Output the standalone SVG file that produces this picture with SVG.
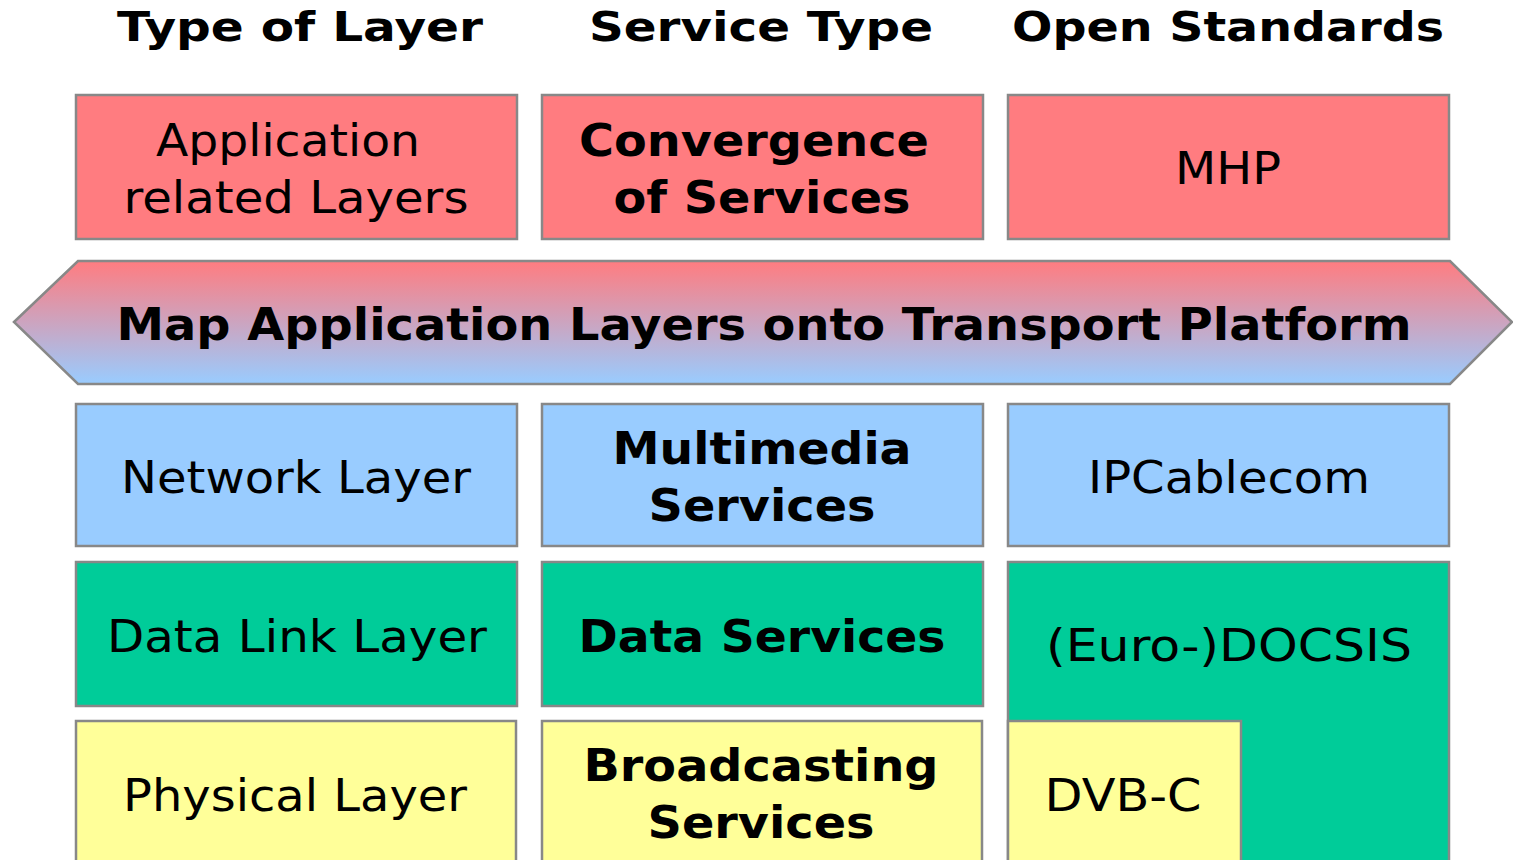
<svg xmlns="http://www.w3.org/2000/svg" width="1513" height="860" viewBox="0 0 1513 860">
<defs>
<linearGradient id="g" x1="0" y1="0" x2="0" y2="1">
<stop offset="0" stop-color="#FF7C80"/>
<stop offset="1" stop-color="#99CCFF"/>
</linearGradient>
</defs>
<style>
.b{stroke:#888;stroke-width:2.5}
.r{fill:#FF7C80}.u{fill:#99CCFF}.gr{fill:#00CC99}.y{fill:#FFFF99}
text{font-family:"DejaVu Sans",Verdana,sans-serif;font-size:45px;fill:#000;text-anchor:middle}
.h{font-weight:bold;font-size:40px}
.bd{font-weight:bold}
</style>
<rect width="1513" height="860" fill="#fff"/>
<g id="headers">
<text class="h" x="300" y="41" textLength="366" lengthAdjust="spacingAndGlyphs">Type of Layer</text>
<text class="h" x="761" y="41" textLength="344" lengthAdjust="spacingAndGlyphs">Service Type</text>
<text class="h" x="1228" y="41" textLength="432" lengthAdjust="spacingAndGlyphs">Open Standards</text>
</g>
<g id="app-layer"><rect class="b r" x="76" y="95" width="441" height="144"/><text x="288" y="156" textLength="264" lengthAdjust="spacingAndGlyphs">Application</text><text x="296" y="213" textLength="345" lengthAdjust="spacingAndGlyphs">related Layers</text></g>
<g id="convergence"><rect class="b r" x="542" y="95" width="441" height="144"/><text class="bd" x="754" y="156" textLength="350" lengthAdjust="spacingAndGlyphs">Convergence</text><text class="bd" x="762" y="213" textLength="297" lengthAdjust="spacingAndGlyphs">of Services</text></g>
<g id="mhp"><rect class="b r" x="1008" y="95" width="441" height="144"/><text x="1228" y="184" textLength="106" lengthAdjust="spacingAndGlyphs">MHP</text></g>
<g id="map-arrow"><polygon class="b" fill="url(#g)" points="14,322 78,261 1450,261 1512,322 1450,384 78,384"/><text class="bd" x="764" y="340" textLength="1295" lengthAdjust="spacingAndGlyphs">Map Application Layers onto Transport Platform</text></g>
<g id="network"><rect class="b u" x="76" y="404" width="441" height="142"/><text x="296" y="493" textLength="350" lengthAdjust="spacingAndGlyphs">Network Layer</text></g>
<g id="multimedia"><rect class="b u" x="542" y="404" width="441" height="142"/><text class="bd" x="762" y="464" textLength="299" lengthAdjust="spacingAndGlyphs">Multimedia</text><text class="bd" x="762" y="521" textLength="227" lengthAdjust="spacingAndGlyphs">Services</text></g>
<g id="ipcablecom"><rect class="b u" x="1008" y="404" width="441" height="142"/><text x="1229" y="493" textLength="282" lengthAdjust="spacingAndGlyphs">IPCablecom</text></g>
<g id="datalink"><rect class="b gr" x="76" y="562" width="441" height="144"/><text x="297" y="652" textLength="380" lengthAdjust="spacingAndGlyphs">Data Link Layer</text></g>
<g id="dataservices"><rect class="b gr" x="542" y="562" width="441" height="144"/><text class="bd" x="762" y="652" textLength="367" lengthAdjust="spacingAndGlyphs">Data Services</text></g>
<g id="docsis"><rect class="b gr" x="1008" y="562" width="441" height="310"/><text x="1229" y="661" textLength="366" lengthAdjust="spacingAndGlyphs">(Euro-)DOCSIS</text></g>
<g id="physical"><rect class="b y" x="76" y="721" width="440" height="150"/><text x="295" y="811" textLength="344" lengthAdjust="spacingAndGlyphs">Physical Layer</text></g>
<g id="broadcasting"><rect class="b y" x="542" y="721" width="440" height="150"/><text class="bd" x="761" y="781" textLength="355" lengthAdjust="spacingAndGlyphs">Broadcasting</text><text class="bd" x="761" y="838" textLength="227" lengthAdjust="spacingAndGlyphs">Services</text></g>
<g id="dvbc"><rect class="b y" x="1008" y="721" width="233" height="150"/><text x="1123" y="811" textLength="157" lengthAdjust="spacingAndGlyphs">DVB-C</text></g>
</svg>
